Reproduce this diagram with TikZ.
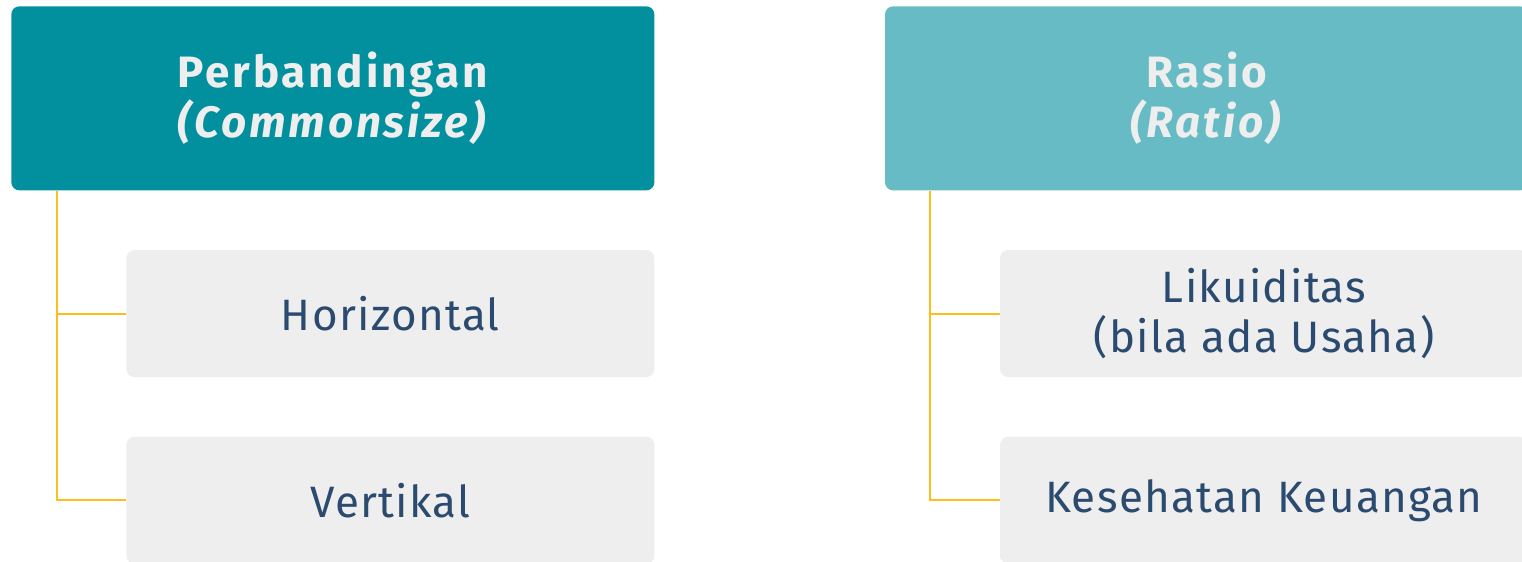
\documentclass[tikz,border=0pt]{standalone}
\usepackage{fontspec}
\setmainfont{Fira Sans}
\newfontfamily\itemfont[LetterSpace=3]{Fira Sans}
\newfontfamily\headfont[LetterSpace=6.5]{Fira Sans}
\usepackage{tikz}
\usetikzlibrary{positioning}

\definecolor{tealdark}{HTML}{02909E}
\definecolor{teallight}{HTML}{66BBC5}
\definecolor{boxgray}{HTML}{EEEEEE}
\definecolor{textblue}{HTML}{2B4A6F}
\definecolor{linegold}{HTML}{FDBD1C}

\begin{document}
\begin{tikzpicture}[
        node distance=1.18cm and 4.6cm,
        every node/.style={font=\itemfont\fontsize{25}{29}\selectfont},
        box/.style={rounded corners=0.16cm, align=center, inner sep=0pt},
        headbox/.style={box, minimum width=12.86cm, minimum height=3.68cm, text=boxgray, font=\headfont\fontsize{25}{28.5}\selectfont\bfseries},
        darkhead/.style={headbox, fill=tealdark},
        lighthead/.style={headbox, fill=teallight},
        itembox/.style={box, fill=boxgray, text=textblue, minimum width=10.56cm, minimum height=2.54cm},
        link/.style={draw=linegold, line width=1.1pt}
    ]
    \useasboundingbox (0,0) rectangle (30.44,-11.22);

    % Headers
    \node[darkhead, anchor=north west] (perbandingan) at (0.22,-0.12) {Perbandingan\\\textit{(Commonsize)}};
    \node[lighthead, right=of perbandingan] (rasio) {Rasio\\\textit{(Ratio)}};

    % Items
    \node[itembox, below=of perbandingan.south east, anchor=north east] (horizontal) {Horizontal};
    \node[itembox, below=of horizontal] (vertikal) {Vertikal};
    \node[itembox, below=of rasio.south east, anchor=north east] (likuiditas) {Likuiditas\\(bila ada Usaha)};
    \node[itembox, below=of likuiditas] (kesehatan) {Kesehatan Keuangan};

    % Connectors
    \coordinate (trunkL) at ([xshift=0.92cm]perbandingan.south west);
    \coordinate (trunkR) at ([xshift=0.9cm]rasio.south west);
    \draw[link] (trunkL) |- (horizontal.west);
    \draw[link] (trunkL) |- (vertikal.west);
    \draw[link] (trunkR) |- (likuiditas.west);
    \draw[link] (trunkR) |- (kesehatan.west);

\end{tikzpicture}
\end{document}
